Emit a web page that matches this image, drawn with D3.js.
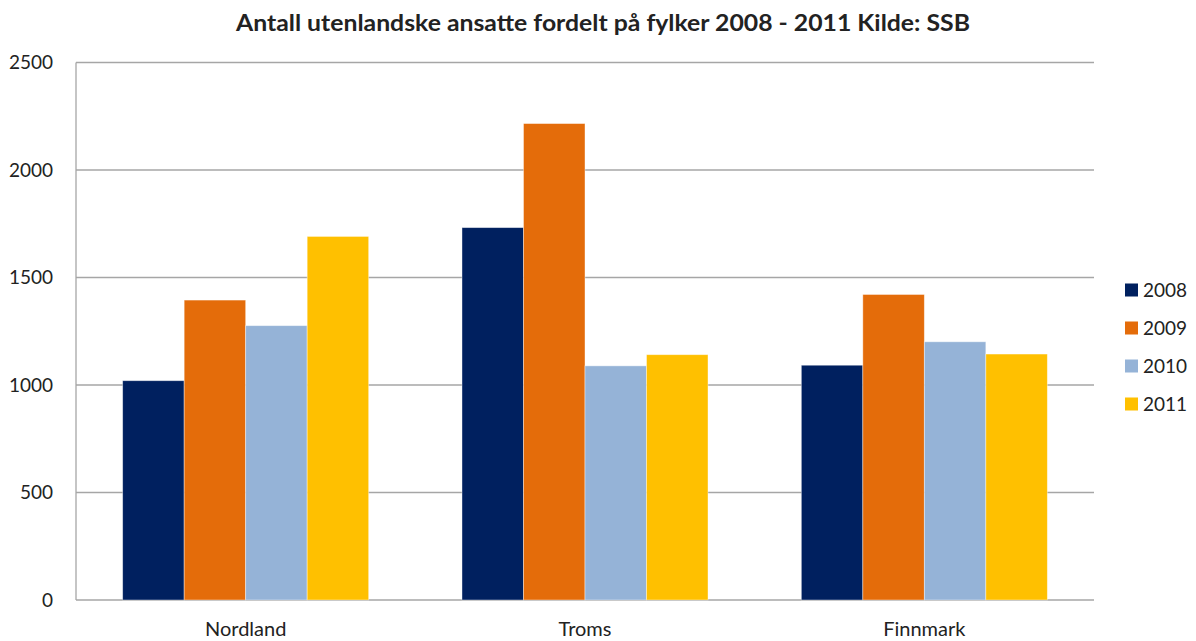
<!DOCTYPE html>
<html>
<head>
<meta charset="utf-8">
<script src="https://cdn.jsdelivr.net/npm/d3@7"></script>
<style>
  body { margin: 0; background: #fff; }
  svg { font-family: Lato, "Open Sans", sans-serif; }
</style>
</head>
<body>
<div id="chart"></div>
<script>
// antall utenlandske ansatte, per fylke og år
var fylker = ["Nordland", "Troms", "Finnmark"];
var years = ["2008", "2009", "2010", "2011"];
var v2008 = [1020, 1732, 1092];
var v2009 = [1395, 2216, 1421];
var v2010 = [1276, 1089, 1201];
var v2011 = [1691, 1141, 1144];
var yTicks = [0, 500, 1000, 1500, 2000, 2500];

var series = [v2008, v2009, v2010, v2011];
var colors = ["#00205f", "#e46c0a", "#95b3d7", "#ffc000"];

var W = 1196, H = 641;
var margin = {top: 62.5, right: 102, bottom: 41, left: 76};
var width = W - margin.left - margin.right;
var height = H - margin.top - margin.bottom;

var svg = d3.select("#chart").append("svg")
    .attr("width", W)
    .attr("height", H);

svg.append("text")
    .attr("x", 603)
    .attr("y", 31)
    .attr("text-anchor", "middle")
    .attr("textLength", 734)
    .attr("lengthAdjust", "spacingAndGlyphs")
    .style("font-size", "23px")
    .style("font-weight", "bold")
    .style("fill", "#222")
    .text("Antall utenlandske ansatte fordelt på fylker 2008 - 2011 Kilde: SSB");

var g = svg.append("g")
    .attr("transform", "translate(" + margin.left + "," + margin.top + ")");

var x0 = d3.scaleBand().domain(fylker).range([0, width]);
var bw = x0.bandwidth();
var x1 = d3.scaleBand().domain(years).range([bw * 0.1375, bw * (1 - 0.1375)]);
var y = d3.scaleLinear().domain([0, 2500]).range([height, 0]);

// gridlines
g.selectAll(".grid")
    .data(yTicks)
    .enter()
    .append("line")
    .attr("x1", 0)
    .attr("x2", width)
    .attr("y1", function(d) { return y(d); })
    .attr("y2", function(d) { return y(d); })
    .attr("stroke", "#a6a6a6")
    .attr("stroke-width", 1.3);

g.append("line")
    .attr("x1", 0).attr("x2", 0)
    .attr("y1", 0).attr("y2", height)
    .attr("stroke", "#a6a6a6")
    .attr("stroke-width", 1.3);

// bars
var groups = g.selectAll(".fylke")
    .data(fylker)
    .enter()
    .append("g")
    .attr("transform", function(d) { return "translate(" + x0(d) + ",0)"; });

groups.selectAll("rect")
    .data(function(d, i) {
        return years.map(function(yr, j) { return {year: yr, value: series[j][i], j: j}; });
    })
    .enter()
    .append("rect")
    .attr("x", function(d) { return x1(d.year); })
    .attr("width", x1.bandwidth())
    .attr("y", function(d) { return y(d.value); })
    .attr("height", function(d) { return height - y(d.value); })
    .attr("fill", function(d) { return colors[d.j]; })
    .attr("stroke", "rgba(255,255,255,0.5)")
    .attr("stroke-width", 0.8);

// y axis labels
g.selectAll(".ylab")
    .data(yTicks)
    .enter()
    .append("text")
    .attr("x", -23)
    .attr("y", function(d) { return y(d); })
    .attr("dy", "0.35em")
    .attr("text-anchor", "end")
    .style("font-size", "19px")
    .style("fill", "#222")
    .text(function(d) { return d; });

// x axis labels
g.selectAll(".xlab")
    .data(fylker)
    .enter()
    .append("text")
    .attr("x", function(d) { return x0(d) + bw / 2; })
    .attr("y", height + 36)
    .attr("text-anchor", "middle")
    .style("font-size", "20px")
    .style("fill", "#222")
    .text(function(d) { return d; });

// legend
var legend = svg.selectAll(".legend")
    .data(years)
    .enter()
    .append("g")
    .attr("transform", function(d, i) { return "translate(1125," + (290 + i * 38) + ")"; });

legend.append("rect")
    .attr("x", 0)
    .attr("y", -6.5)
    .attr("width", 13)
    .attr("height", 13)
    .attr("fill", function(d, i) { return colors[i]; });

legend.append("text")
    .attr("x", 18)
    .attr("y", 0)
    .attr("dy", "0.36em")
    .style("font-size", "19px")
    .style("fill", "#222")
    .text(function(d) { return d; });
</script>
</body>
</html>
